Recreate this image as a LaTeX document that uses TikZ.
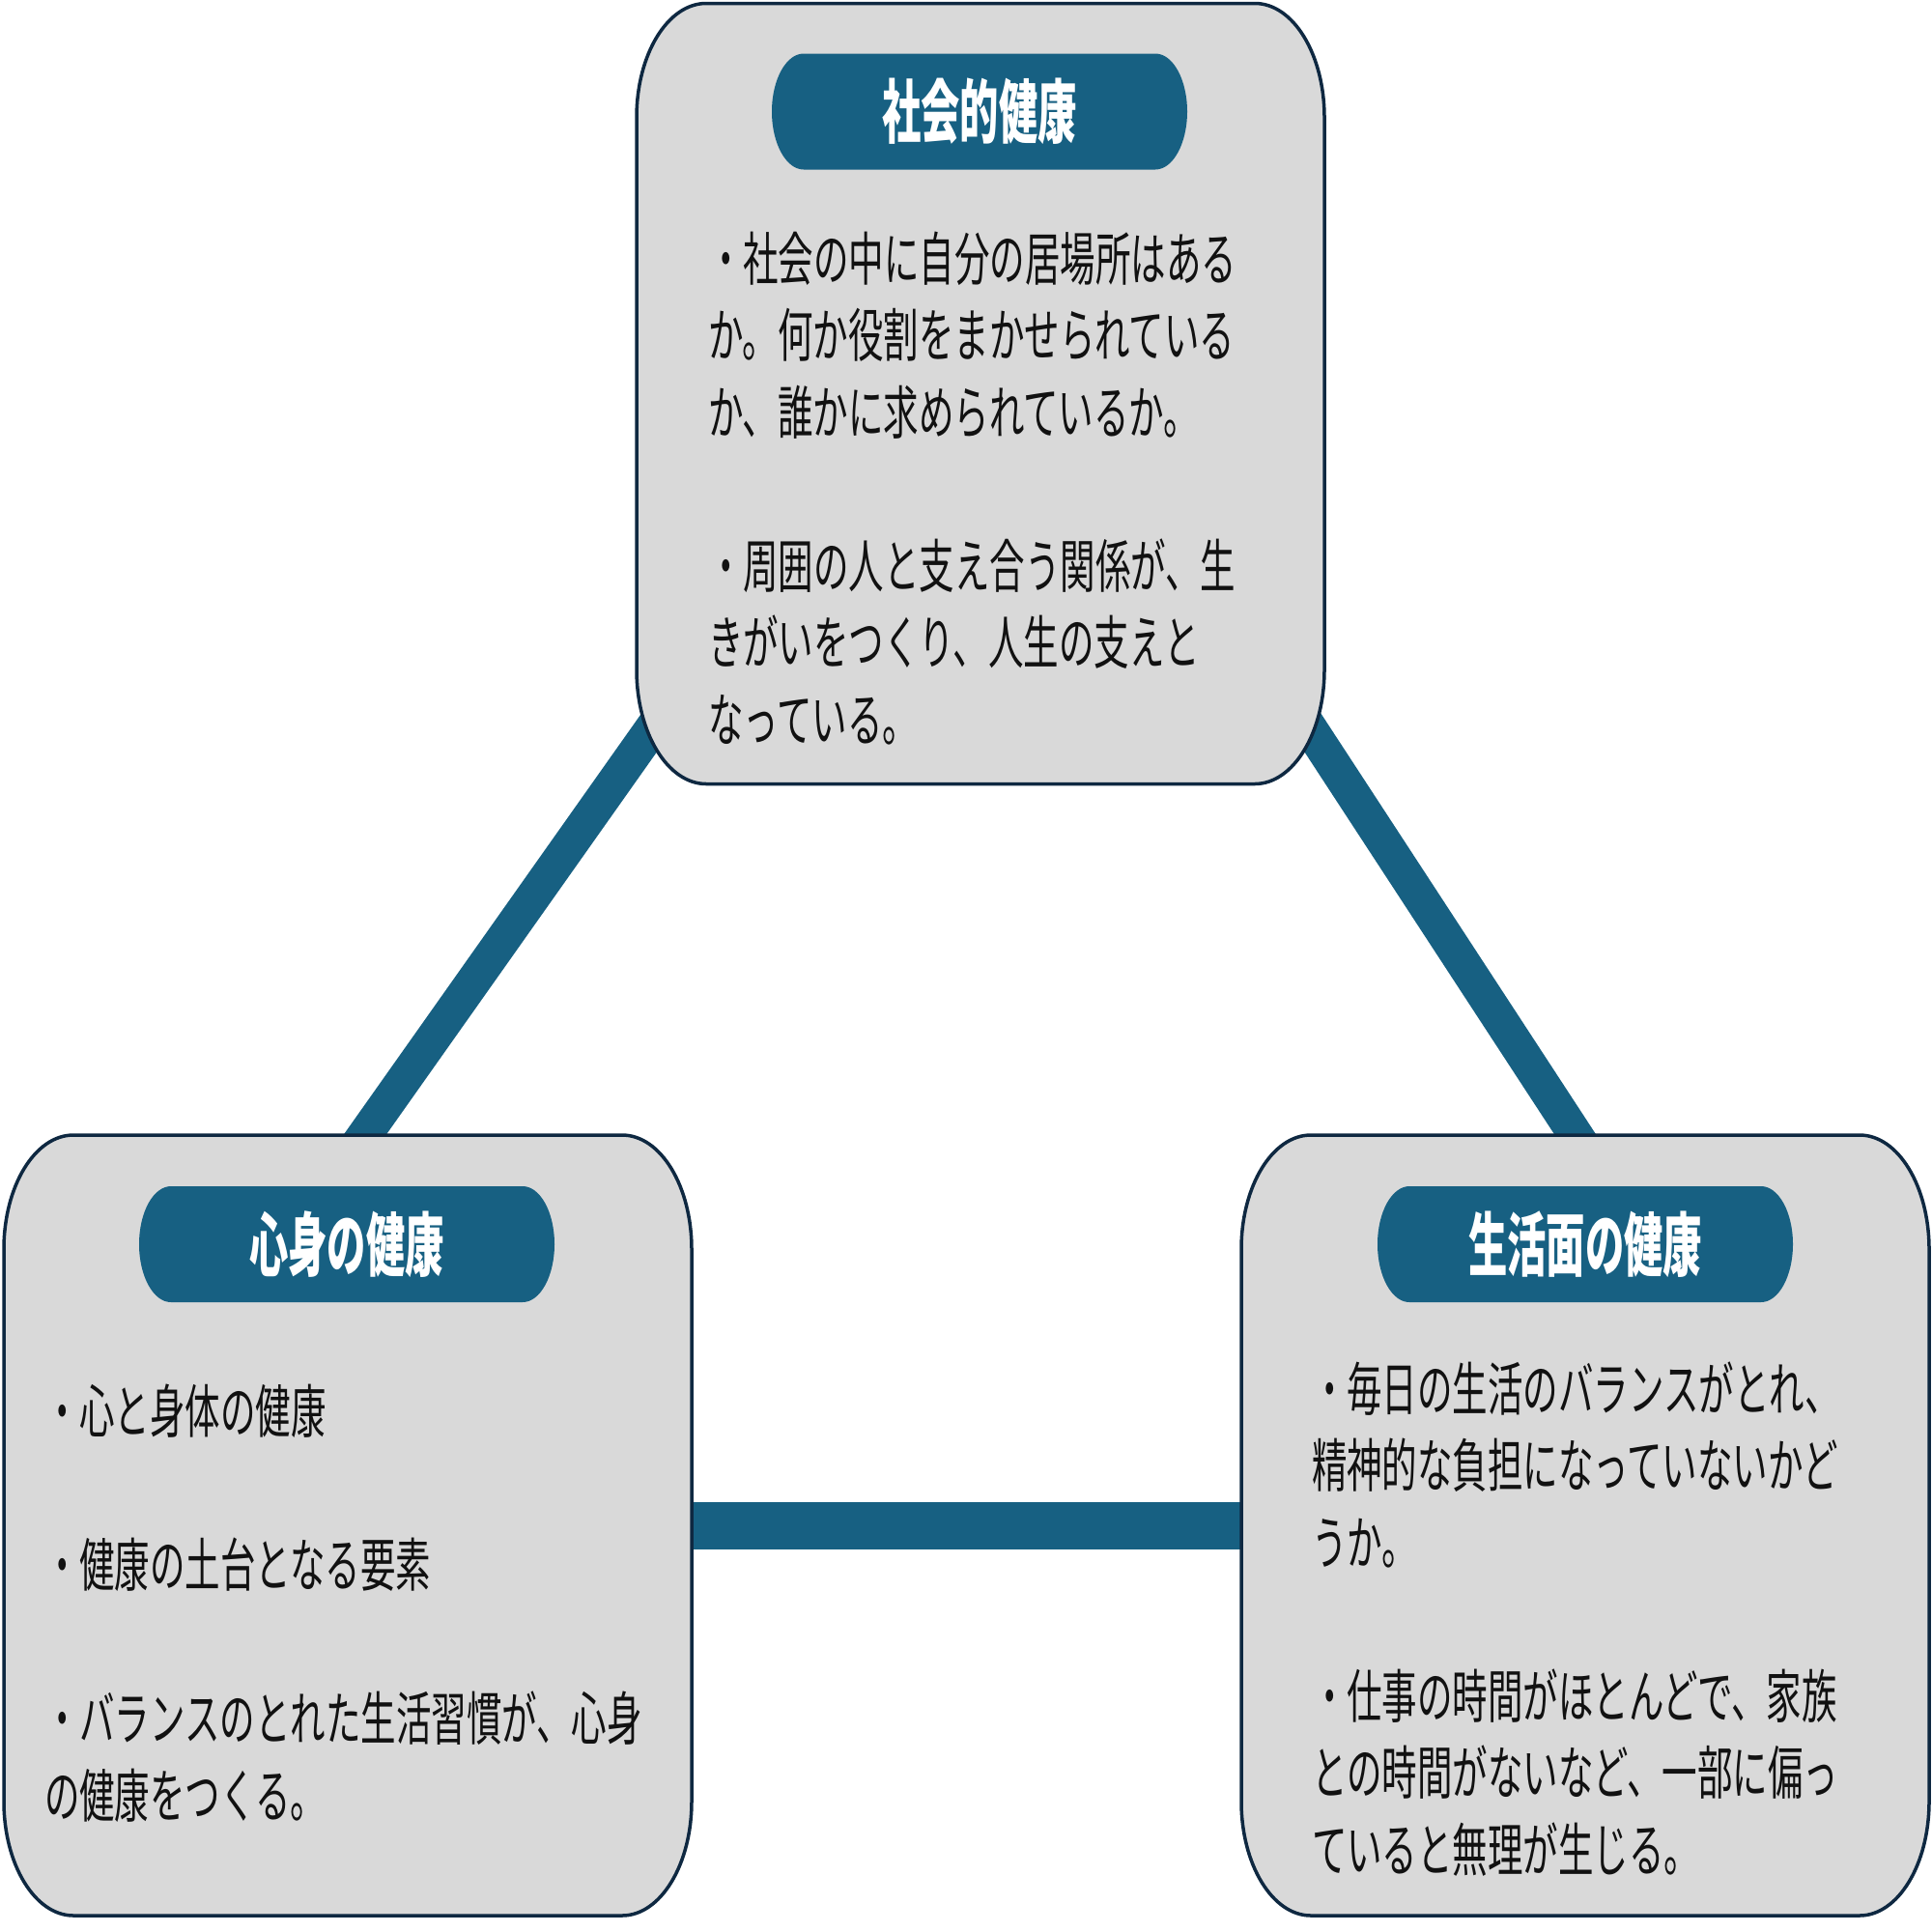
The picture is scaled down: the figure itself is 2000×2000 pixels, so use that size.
\documentclass[tikz,border=0pt]{standalone}
\usepackage{fontspec}
\newfontfamily\jpbody[FakeStretch=0.608]{Noto Sans CJK JP}
\newfontfamily\jptitle[FakeStretch=0.56]{Noto Sans CJK JP}
\usetikzlibrary{calc,backgrounds}
\definecolor{pillblue}{HTML}{176082}
\definecolor{boxgray}{HTML}{D9D9D9}
\definecolor{boxedge}{HTML}{0E2841}
\definecolor{txt}{HTML}{111111}
\newcommand\rbshape[4]{%
  \path[#4] ($(#1.north west)+(0,-#3)$) arc[start angle=180,end angle=90,x radius=#2,y radius=#3]
   -- ($(#1.north east)+(-#2,0)$) arc[start angle=90,end angle=0,x radius=#2,y radius=#3]
   -- ($(#1.south east)+(0,#3)$) arc[start angle=0,end angle=-90,x radius=#2,y radius=#3]
   -- ($(#1.south west)+(#2,0)$) arc[start angle=270,end angle=180,x radius=#2,y radius=#3]
   -- cycle;}
\begin{document}
\begin{tikzpicture}[x=1pt,y=1pt,
  area/.style={inner sep=0pt,outer sep=0pt,minimum width=712pt,minimum height=808pt},
  pill/.style={inner sep=0pt,outer sep=0pt,minimum width=430pt,minimum height=120pt,text=white,
    font=\jptitle\bfseries\fontsize{72pt}{80pt}\selectfont,text height=54pt,text depth=0pt},
  body/.style={inner sep=0pt,outer sep=0pt,anchor=base west,align=left,text=txt,
    font=\jpbody\fontsize{60pt}{79.5pt}\selectfont},
  boxshape/.style={fill=boxgray,draw=boxedge,line width=3.5pt},
  pillshape/.style={fill=pillblue},
  conn/.style={draw=pillblue,line width=36pt}]
\useasboundingbox (0,0) rectangle (2000,-2000);
% boxes (areas)
\node[area] (T) at (1015,-407.5) {};
\node[area] (L) at (360,-1579) {};
\node[area] (R) at (1641,-1579) {};
% titles
\node[pill] (Tt) at (1014,-115.5) {社会的健康};
\node[pill] (Lt) at (359,-1288) {心身の健康};
\node[pill] (Rt) at (1641,-1288) {生活面の健康};
% body texts (anchored at the baseline of their last line)
\node[body] (Tb) at (733,-767) {・社会の中に自分の居場所はある\\か。何か役割をまかせられている\\か、誰かに求められているか。\\[79.5pt]・周囲の人と支え合う関係が、生\\きがいをつくり、人生の支えと\\なっている。};
\node[body] (Lb) at (46,-1881) {・心と身体の健康\\[79.5pt]・健康の土台となる要素\\[79.5pt]・バランスのとれた生活習慣が、心身\\の健康をつくる。};
\node[body] (Rb) at (1358,-1937) {・毎日の生活のバランスがとれ、\\精神的な負担になっていないかど\\うか。\\[79.5pt]・仕事の時間がほとんどで、家族\\との時間がないなど、一部に偏っ\\ていると無理が生じる。};
\begin{scope}[on background layer]
  \coordinate (a1) at (348.5,-1216);
  \coordinate (a2) at (702,-716);
  \coordinate (b1) at (1658.5,-1217);
  \coordinate (b2) at (1330.5,-715);
  \draw[conn] (a1) -- (a2);
  \draw[conn] (b1) -- (b2);
  \draw[conn,line width=49pt] (L) -- (R);
  \rbshape{T}{72}{118}{boxshape}
  \rbshape{L}{72}{118}{boxshape}
  \rbshape{R}{72}{118}{boxshape}
  \rbshape{Tt}{33}{60}{pillshape}
  \rbshape{Lt}{33}{60}{pillshape}
  \rbshape{Rt}{33}{60}{pillshape}
\end{scope}
\end{tikzpicture}
\end{document}
